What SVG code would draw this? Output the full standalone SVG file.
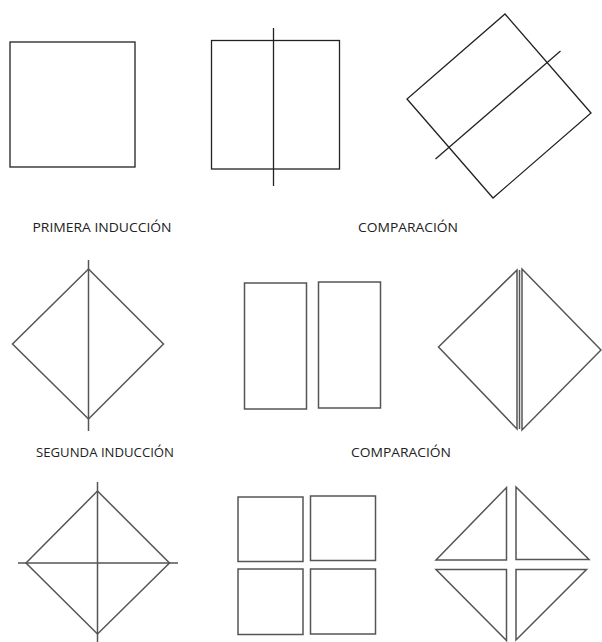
<svg xmlns="http://www.w3.org/2000/svg" width="602" height="642" viewBox="0 0 602 642">
<style>
.s1{fill:none;stroke:#222;stroke-width:1.3}
.s2{fill:none;stroke:#555;stroke-width:1.5}
.t{font-family:"Open Sans","Liberation Sans",sans-serif;font-size:13px;fill:#222}
</style>
<rect width="602" height="642" fill="#fff"/>
<g id="r1a"><rect class="s1" x="10" y="42" width="125" height="125"/></g>
<g id="r1b"><rect class="s1" x="211.5" y="40.5" width="128" height="128.5"/><line class="s1" x1="273.5" y1="28" x2="273.5" y2="186"/></g>
<g id="r1c"><polygon class="s1" points="505,14 591,113 493,198 407,99"/><line class="s1" x1="435.5" y1="159" x2="560.5" y2="51"/></g>
<g id="lbl1"><text class="t" x="32.5" y="232" textLength="139" lengthAdjust="spacingAndGlyphs">PRIMERA INDUCCIÓN</text></g>
<g id="lbl2"><text class="t" x="358" y="232" textLength="100" lengthAdjust="spacingAndGlyphs">COMPARACIÓN</text></g>
<g id="r2a"><polygon class="s2" points="88.5,269 163.5,344 88.5,419 12.5,344"/><line class="s2" x1="88.5" y1="260" x2="88.5" y2="431"/></g>
<g id="r2b"><rect class="s2" x="244.5" y="283" width="62" height="126"/><rect class="s2" x="318.5" y="282" width="62" height="126"/></g>
<g id="r2c"><polygon class="s2" points="517,270 517,429 438.5,347"/><line class="s2" x1="519.5" y1="270" x2="519.5" y2="429"/><polygon class="s2" points="522,269 601,350 522,430"/></g>
<g id="lbl3"><text class="t" x="36" y="457" textLength="138" lengthAdjust="spacingAndGlyphs">SEGUNDA INDUCCIÓN</text></g>
<g id="lbl4"><text class="t" x="351" y="457" textLength="100" lengthAdjust="spacingAndGlyphs">COMPARACIÓN</text></g>
<g id="r3a"><polygon class="s2" points="97.5,491 169.5,563 97.5,634 26,563"/><line class="s2" x1="97.5" y1="482" x2="97.5" y2="642"/><line class="s2" x1="18" y1="563" x2="178" y2="563"/></g>
<g id="r3b"><rect class="s2" x="238" y="497" width="65" height="64.5"/><rect class="s2" x="310.5" y="496" width="65" height="64.5"/><rect class="s2" x="238" y="569" width="65" height="65.5"/><rect class="s2" x="310.5" y="569" width="65" height="65"/></g>
<g id="r3c"><polygon class="s2" points="506.5,487.5 506.5,560 436,560"/><polygon class="s2" points="516,487 589,559.5 516,559.5"/><polygon class="s2" points="436,569.5 506.5,569.5 506.5,640.5"/><polygon class="s2" points="516,569.5 586.5,569.5 516,640"/></g>
</svg>
